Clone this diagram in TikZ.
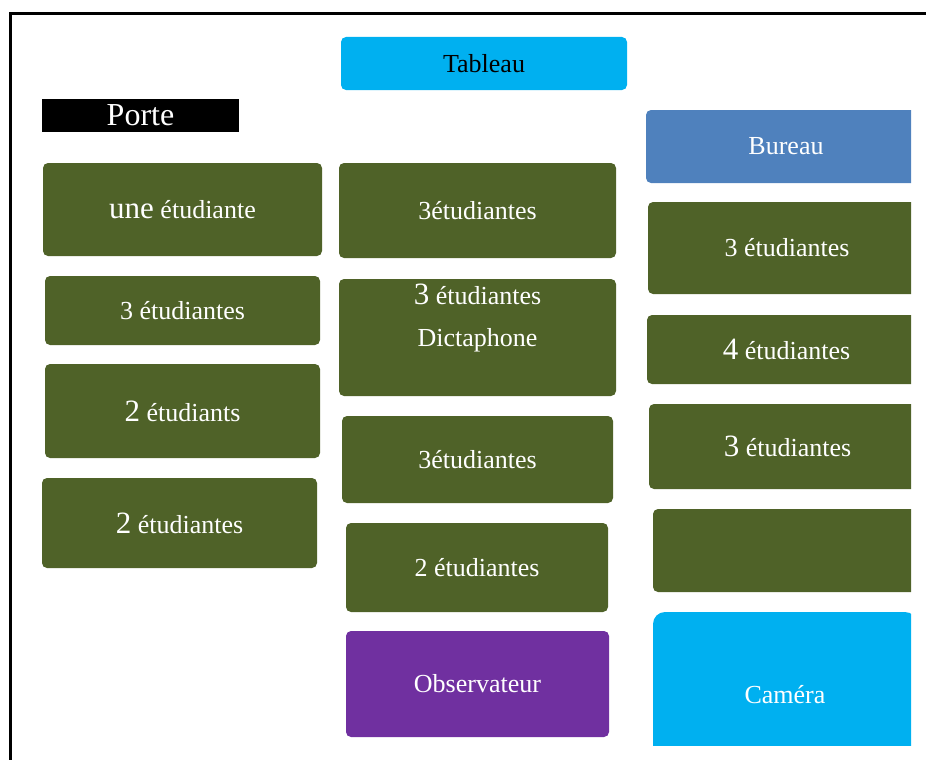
\documentclass[tikz,border=0pt]{standalone}
\usepackage{fontspec}
\setmainfont{Liberation Serif}

\definecolor{vertsalle}{HTML}{4F6228}
\definecolor{cyantab}{HTML}{00B0F0}
\definecolor{bleubureau}{HTML}{4F81BD}
\definecolor{violetobs}{HTML}{7030A0}

\newcommand\grand[1]{{\fontsize{31}{31}\selectfont #1}}

\tikzset{
  rang/.style={rectangle, rounded corners=5pt, fill=vertsalle, text=white,
    inner sep=0pt, font=\fontsize{26}{30}\selectfont},
  meuble/.style={rang, fill=#1},
}

\begin{document}
\begin{tikzpicture}[x=1pt, y=-1pt]
      \useasboundingbox (0,0) rectangle (926,760);
      % cadre de la salle
      \draw[line width=3pt] (10,760) -- (10,13.5) -- (926,13.5);

      \node[meuble=cyantab, text=black, minimum width=286pt, minimum height=53pt]
        (tableau) at (484,63.5) {Tableau};
      \node[rang, fill=black, rounded corners=0pt, font=\fontsize{32}{32}\selectfont,
        minimum width=197pt, minimum height=33pt] (porte) at (140.5,115.5) {Porte};

      % rangée gauche
      \node[rang, minimum width=279pt, minimum height=93pt] (g1) at (182.5,209.5) {\grand{une} étudiante};
      \node[rang, minimum width=275pt, minimum height=69pt] (g2) at (182.5,310.5) {3 étudiantes};
      \node[rang, minimum width=275pt, minimum height=94pt] (g3) at (182.5,411) {\grand{2} étudiants};
      \node[rang, minimum width=275pt, minimum height=90pt] (g4) at (179.5,523) {\grand{2} étudiantes};

      % rangée du milieu
      \node[rang, minimum width=277pt, minimum height=95pt] (m1) at (477.5,210.5) {3étudiantes};
      \node[rang, minimum width=277pt, minimum height=117pt] (m2) at (477.5,337.5) {};
      \node[text=white, align=center, font=\fontsize{26}{42}\selectfont]
        (m2txt) at (477.5,318) {\grand{3} étudiantes\\Dictaphone};
      \node[rang, minimum width=271pt, minimum height=87pt] (m3) at (477.5,459.5) {3étudiantes};
      \node[rang, minimum width=262pt, minimum height=89pt] (m4) at (477,567.5) {2 étudiantes};
      \node[meuble=violetobs, minimum width=263pt, minimum height=106pt] (obs) at (477.5,684) {Observateur};

      % rangée droite, coupée par le bord
      \begin{scope}
        \clip (0,0) rectangle (911,745);
        \node[meuble=bleubureau, minimum width=280pt, minimum height=73pt] (bureau) at (786,146.5) {Bureau};
        \node[rang, minimum width=278pt, minimum height=92pt] (d1) at (787,248) {3 étudiantes};
        \node[rang, minimum width=279pt, minimum height=69pt] (d2) at (786.5,349.5) {\grand{4} étudiantes};
        \node[rang, minimum width=277pt, minimum height=85pt] (d3) at (787.5,446.5) {\grand{3} étudiantes};
        \node[rang, minimum width=273pt, minimum height=83pt] (d4) at (789.5,550.5) {};
        \node[meuble=cyantab, rounded corners=12pt, minimum width=264pt, minimum height=166pt]
          (camera) at (785,695) {Caméra};
      \end{scope}
    \end{tikzpicture}
\end{document}
